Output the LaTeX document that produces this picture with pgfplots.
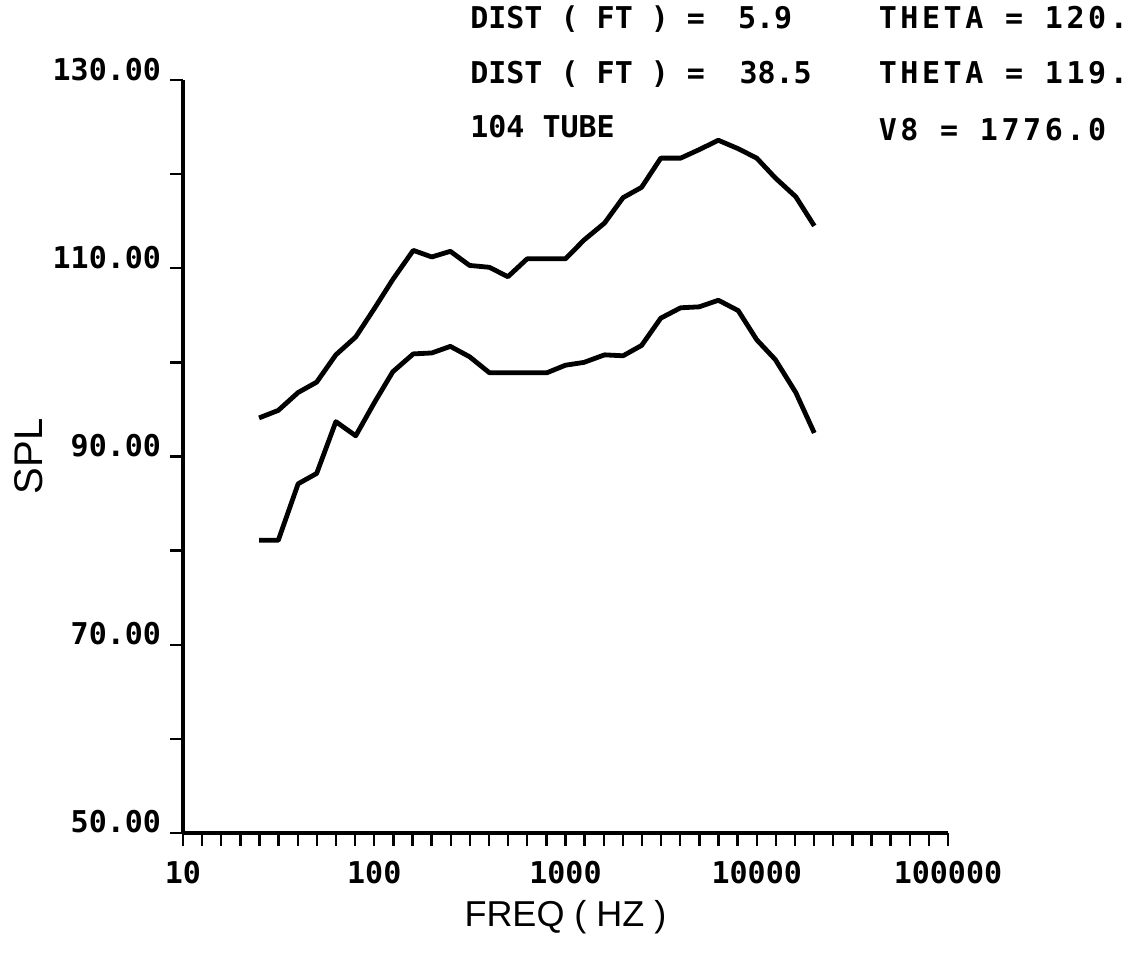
\documentclass[border=0pt]{standalone}
\usepackage{fontspec}
\usepackage{pgfplots}
\pgfplotsset{compat=1.18}
\setmainfont{Liberation Sans}
\newfontfamily\plotmono{DejaVu Sans Mono}
\newfontfamily\plotmonowide{DejaVu Sans Mono}[LetterSpace=12]

% third-octave band levels
\pgfplotstableread{
f      spl
25     94.1
31.5   94.9
40     96.8
50     97.9
63     100.8
80     102.7
100    105.7
125    108.8
160    111.9
200    111.2
250    111.8
315    110.3
400    110.1
500    109.1
630    111.0
800    111.0
1000   111.0
1250   113.0
1600   114.8
2000   117.5
2500   118.6
3150   121.7
4000   121.7
5000   122.6
6300   123.6
8000   122.7
10000  121.7
12500  119.6
16000  117.6
20000  114.5
}\nearfield

\pgfplotstableread{
f      spl
25     81.1
31.5   81.1
40     87.1
50     88.2
63     93.7
80     92.2
100    95.7
125    99.0
160    100.9
200    101.0
250    101.7
315    100.6
400    98.9
500    98.9
630    98.9
800    98.9
1000   99.7
1250   100.0
1600   100.8
2000   100.7
2500   101.8
3150   104.7
4000   105.8
5000   105.9
6300   106.6
8000   105.5
10000  102.4
12500  100.3
16000  96.8
20000  92.5
}\farfield

\begin{document}
\begin{tikzpicture}
\begin{axis}[
    name=ax, at={(0,0)}, anchor=south west,
    scale only axis, width=382.5pt, height=376.5pt,
    xmode=log, log basis x=10,
    xmin=10, xmax=100000, ymin=50, ymax=130,
    axis lines=left,
    axis line style={-, line width=1.7pt},
    xtick={10,100,1000,10000,100000},
    xticklabels={10,100,1000,10000,100000},
    minor xtick={12.589,15.849,19.953,25.119,31.623,39.811,50.119,63.096,79.433,
                 125.89,158.49,199.53,251.19,316.23,398.11,501.19,630.96,794.33,
                 1258.9,1584.9,1995.3,2511.9,3162.3,3981.1,5011.9,6309.6,7943.3,
                 12589,15849,19953,25119,31623,39811,50119,63096,79433},
    ytick={50,70,90,110,130},
    yticklabels={50.00,70.00,90.00,110.00,130.00},
    minor ytick={60,80,100,120},
    tick align=outside,
    major tick length=6.5pt, minor tick length=6.5pt,
    every tick/.style={black, line width=1.2pt},
    minor tick style={black, line width=1.2pt},
    ticklabel style={font=\plotmono\bfseries\fontsize{15}{18}\selectfont},
    xticklabel style={yshift=-4pt},
    yticklabel style={anchor=base east, xshift=-1pt},
    xlabel={FREQ ( HZ )},
    xlabel style={at={([yshift=-42pt]axis description cs:0.5,0)}, anchor=center,
                  font=\fontsize{18}{21}\selectfont},
    ylabel={SPL},
    ylabel style={at={([xshift=-77pt]axis description cs:0,0.5)}, anchor=center,
                  font=\fontsize{20}{24}\selectfont},
    clip=false,
]
\addplot[black, line width=2.4pt, line join=round] table[x=f, y=spl] {\nearfield};
\addplot[black, line width=2.4pt, line join=round] table[x=f, y=spl] {\farfield};

\begin{scope}[every node/.style={anchor=base west, inner sep=0pt,
      font=\plotmono\bfseries\fontsize{15}{18}\selectfont}]
\node at (axis description cs:0.375,1.069) {DIST ( FT ) =};
\node at (axis description cs:0.725,1.069) {5.9};
\node at (axis description cs:0.727,0.996) {38.5};
\node at (axis description cs:0.375,0.996) {DIST ( FT ) =};
\node at (axis description cs:0.375,0.924) {104 TUBE};
\end{scope}
\begin{scope}[every node/.style={anchor=base west, inner sep=0pt,
      font=\plotmonowide\bfseries\fontsize{15}{18}\selectfont}]
\node at (axis description cs:0.909,1.069) {THETA = 120.};
\node at (axis description cs:0.909,0.996) {THETA = 119.};
\node at (axis description cs:0.909,0.920) {V8 = 1776.0};
\end{scope}
\end{axis}
\pgfresetboundingbox
\path[use as bounding box] ([shift={(-91.5pt,-64.5pt)}]ax.south west)
    rectangle ([shift={(474.5pt,416.5pt)}]ax.south west);
\end{tikzpicture}
\end{document}
